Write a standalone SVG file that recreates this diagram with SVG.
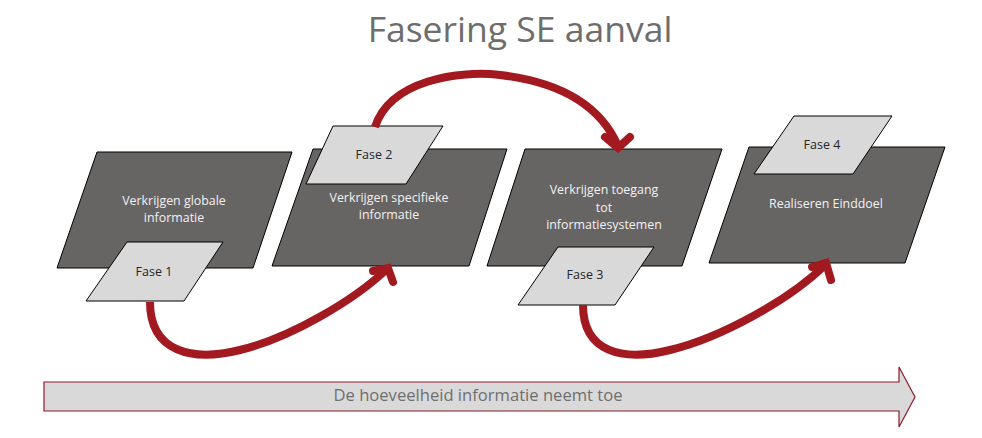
<svg xmlns="http://www.w3.org/2000/svg" width="982" height="438" viewBox="0 0 982 438">
<style>
text{font-family:"Open Sans","Noto Sans","Liberation Sans",sans-serif;text-anchor:middle}
.big{fill:#676464;stroke:#000;stroke-width:1}
.bigt{fill:#f2f2f2;font-size:12.4px}
.fase{fill:#d9d9d9;stroke:#000;stroke-width:1}
.faset{fill:#262626;font-size:12.5px}
.red{fill:none;stroke:#a31920;stroke-width:8}
.head{fill:none;stroke:#a31920;stroke-width:8;stroke-linecap:round;stroke-linejoin:miter}
</style>
<rect width="982" height="438" fill="#fff"/>
<text x="520" y="42" style="font-size:35.5px;fill:#6d6d6d">Fasering SE aanval</text>
<g id="stap1">
<polygon class="big" points="97,152 292,152 253,268 57,268"/>
<text class="bigt" x="174" y="205">Verkrijgen globale</text>
<text class="bigt" x="174" y="222">informatie</text>
</g>
<g id="stap2">
<polygon class="big" points="313,149 507,149 469,266 272,266"/>
<text class="bigt" x="389" y="202">Verkrijgen specifieke</text>
<text class="bigt" x="389" y="219">informatie</text>
</g>
<g id="stap3">
<polygon class="big" points="525,149 722,149 682,266 487,266"/>
<text class="bigt" x="604" y="194">Verkrijgen toegang</text>
<text class="bigt" x="604" y="211.5">tot</text>
<text class="bigt" x="604" y="229">informatiesystemen</text>
</g>
<g id="stap4">
<polygon class="big" points="749,147 945,147 905,263 709,263"/>
<text class="bigt" x="826" y="208">Realiseren Einddoel</text>
</g>
<g id="fase1">
<polygon class="fase" points="127,242 223,242 184,301 86,301"/>
<text class="faset" x="154" y="276">Fase 1</text>
</g>
<g id="fase2">
<polygon class="fase" points="333,126 443,126 406,184 306,184"/>
<text class="faset" x="374" y="159">Fase 2</text>
</g>
<g id="fase3">
<polygon class="fase" points="558,247 654,247 615,305 518,305"/>
<text class="faset" x="585" y="279">Fase 3</text>
</g>
<g id="fase4">
<polygon class="fase" points="794,116 892,116 853,174 754,174"/>
<text class="faset" x="822" y="149">Fase 4</text>
</g>
<g id="connectors">
<path class="red" d="M150,302 C150,352 192,362 240,350 C290,338 355,300 388,268"/>
<polyline class="head" points="373,271 388,268 393,282"/>
<path class="red" d="M375,127 C390,80 460,70 500,75 C560,82 600,105 618,146"/>
<polyline class="head" points="605,137 618,148 630,137"/>
<path class="red" d="M583,305 C583,352 622,362 670,350 C720,338 790,300 826,264"/>
<polyline class="head" points="812,267 826,263 831,280"/>
</g>
<g id="informatie-pijl">
<polygon points="44,382 899,382 899,367 915,397 899,427 899,411 44,411" fill="#d9d9d9" stroke="#8c1a2a" stroke-width="1.2"/>
<text x="478" y="401" style="font-size:16.6px;fill:#6f6f6f">De hoeveelheid informatie neemt toe</text>
</g>
</svg>
